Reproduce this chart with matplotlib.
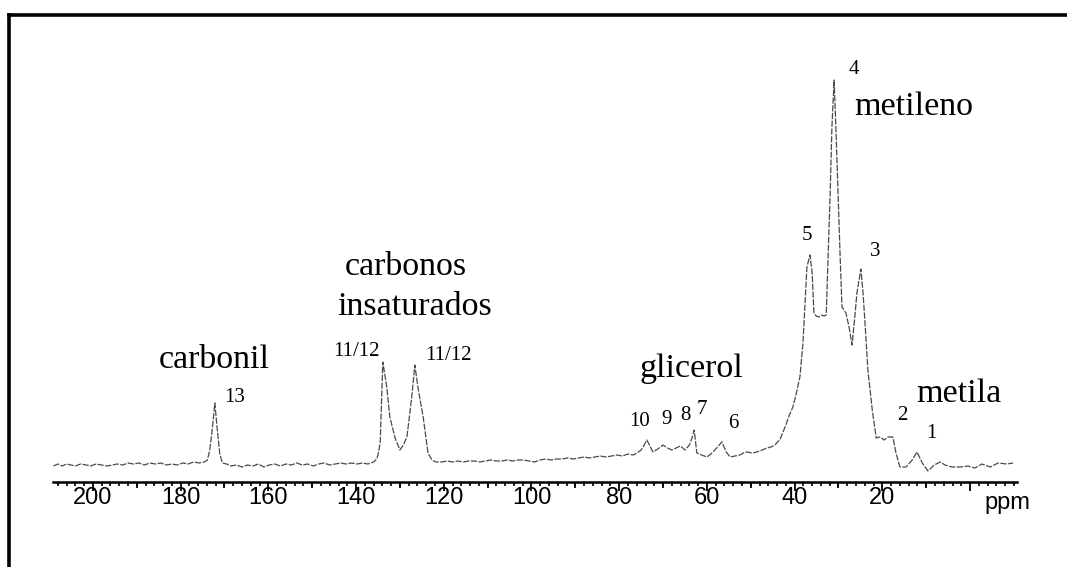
import matplotlib
matplotlib.use("Agg")
import matplotlib.pyplot as plt
from matplotlib.lines import Line2D
from matplotlib.ticker import MultipleLocator, FuncFormatter

# espectro de RMN 13C (deslocamento em ppm, intensidade relativa)
ppm = [209.0, 208.0, 207.0, 206.0, 205.0, 204.0, 202.8, 201.5, 200.5, 199.3,
       198.0, 196.8, 195.5, 194.5, 193.2, 192.0, 190.8, 189.5, 188.3, 187.0,
       185.8, 184.5, 183.3, 182.0, 180.8, 179.5, 178.3, 177.0, 175.8, 174.6,
       173.9, 173.4, 172.8, 172.2, 171.7, 171.1, 170.5,
       169.5, 168.5, 167.3, 166.0, 164.8, 163.5, 162.3, 161.0, 159.8, 158.5,
       157.3, 156.0, 154.8, 153.5, 152.3, 151.0, 149.8, 148.5, 147.3, 146.0,
       144.8, 143.5, 142.3, 141.0, 139.8, 138.5, 137.3, 136.0, 135.3,
       135.0, 134.5, 133.9, 133.0, 132.3, 131.1, 130.0, 129.2, 128.4, 127.3,
       126.6, 125.9, 124.7, 123.6, 122.7,
       121.8, 120.5, 119.2, 118.0, 116.8, 115.5, 114.3, 113.0, 111.8, 110.5,
       109.3, 108.0, 106.8, 105.5, 104.3, 103.0, 101.8, 100.5, 99.3, 98.0,
       96.8, 95.5, 94.3, 93.0, 91.8, 90.5, 89.3, 88.0, 86.8, 85.5,
       84.3, 83.0, 81.8, 80.5, 79.3, 78.0, 76.8, 75.9,
       75.0, 74.3, 73.7, 73.0, 72.3, 71.2, 70.0, 69.0, 68.0, 67.0,
       66.1, 65.5, 65.0, 64.0, 63.4, 62.9, 62.3, 61.2, 60.0, 59.1,
       58.2, 57.4, 56.6, 55.6, 54.7, 53.6, 52.5, 51.7, 50.9, 49.7,
       48.6, 47.4, 46.3, 45.4, 44.5, 43.3, 42.0, 41.2, 40.4, 39.6,
       38.8, 38.1, 37.6, 37.2, 36.5, 36.0, 35.6, 35.1, 34.5, 33.9,
       33.3, 32.8, 32.4, 31.9, 31.5, 31.0, 30.6, 30.1, 29.6, 29.2,
       28.3, 27.6, 26.9, 26.2, 25.8, 24.9, 24.4, 23.9, 23.3, 22.3,
       21.4, 20.5, 19.6, 18.7, 17.6, 16.9, 16.0, 14.6, 13.2, 12.1,
       10.9, 9.6, 8.2, 6.8, 5.7, 4.1, 2.3, 0.5, -1.1, -2.7,
       -4.6, -6.4, -8.4, -9.8]
intensidade = [-1, 1, -1, 1, 0, -1, 1, 0, -1, 1,
               0, -1, 0, 1, 0, 2, 1, 2, 0, 2,
               1, 2, 0, 1, 0, 2, 1, 3, 2, 3,
               5, 14, 35, 62, 38, 12, 2,
               1, -1, 0, -2, 0, -1, 1, -2, 0, 1,
               -1, 1, 0, 2, 0, 1, -1, 1, 2, 0,
               1, 2, 1, 2, 1, 2, 1, 3, 6,
               10, 22, 103, 78, 48, 27, 15, 20, 28, 68,
               100, 78, 48, 12, 5,
               3, 3, 4, 3, 4, 3, 4, 4, 3, 4,
               5, 4, 4, 5, 4, 5, 5, 4, 3, 5,
               6, 5, 6, 6, 7, 6, 7, 8, 7, 8,
               9, 8, 9, 10, 9, 11, 10, 12,
               15, 20, 25, 19, 13, 16, 20, 17, 15, 17,
               19, 17, 15, 20, 27, 35, 12, 10, 8, 11,
               15, 19, 23, 13, 8, 9, 10, 12, 13, 12,
               13, 15, 17, 18, 20, 26, 40, 50, 58, 72,
               88, 122, 165, 198, 210, 192, 152, 149, 148, 150,
               149, 150, 205, 272, 338, 385, 338, 272, 205, 158,
               152, 138, 120, 152, 172, 196, 172, 138, 95, 55,
               27, 28, 25, 28, 28, 12, -2, -2, 5, 13,
               2, -6, 0, 3, 0, -2, -2, -1, -3, 1,
               -2, 2, 1, 2]

# numeração dos sinais: (texto, ppm, intensidade)
sinais = [("13", 167.8, 67), ("11/12", 140.0, 114), ("11/12", 119.0, 110),
          ("10", 75.3, 43), ("9", 69.1, 46), ("8", 65.0, 50), ("7", 61.1, 55),
          ("6", 54.0, 41), ("5", 37.2, 229), ("4", 26.5, 395), ("3", 21.7, 214),
          ("2", 15.5, 49), ("1", 8.9, 31)]

# grupos de carbonos
grupos = [("carbonil", 172.4, 97), ("carbonos", 128.6, 190),
          ("insaturados", 126.6, 150), ("glicerol", 63.6, 88),
          ("metileno", 12.8, 350), ("metila", 2.5, 63)]

fig = plt.figure(figsize=(10.67, 5.67), dpi=100)
ax = fig.add_axes([53 / 1067, 1 - 482 / 567, 964 / 1067, 422 / 567])

ax.plot(ppm, intensidade, color="#4a4a4a", lw=0.9, ls=(0, (5, 1.2)))

ax.set_xlim(209.1, -10.7)
ax.set_ylim(-17, 405)

for s in ["top", "left", "right"]:
    ax.spines[s].set_visible(False)
ax.spines["bottom"].set_linewidth(1.8)
ax.set_yticks([])

ax.xaxis.set_major_locator(MultipleLocator(20))
ax.xaxis.set_minor_locator(MultipleLocator(2))
ax.xaxis.set_major_formatter(FuncFormatter(lambda v, p: "" if abs(v) < 1e-6 else "%d" % v))
ax.tick_params(axis="x", which="major", direction="out", length=6.5, width=1.3,
               pad=-3, labelsize=17)
ax.tick_params(axis="x", which="minor", direction="out", length=2.8, width=1.2)
for lab in ax.get_xticklabels():
    lab.set_fontfamily("Liberation Sans")

# marcas intermediárias a cada 10 ppm
sec = ax.secondary_xaxis("bottom")
sec.set_xticks([190, 170, 150, 130, 110, 90, 70, 50, 30, 10])
sec.set_xticklabels([])
sec.spines["bottom"].set_visible(False)
sec.tick_params(axis="x", which="major", direction="out", length=4, width=1.3)
sec.tick_params(axis="x", which="minor", length=0)

ax.text(-8.4, -27, "ppm", ha="center", va="top", fontsize=17,
        family="Liberation Sans")

for txt, x, y in sinais:
    ax.text(x, y, txt, ha="center", va="center", fontsize=15,
            family="Liberation Serif")

for txt, x, y in grupos:
    ax.text(x, y, txt, ha="center", va="baseline", fontsize=24.5,
            family="Liberation Serif")

# moldura
fig.add_artist(Line2D([9 / 1067, 1.0], [1 - 15 / 567, 1 - 15 / 567],
                      transform=fig.transFigure, color="black", lw=2.6))
fig.add_artist(Line2D([9 / 1067, 9 / 1067], [0, 1 - 15 / 567],
                      transform=fig.transFigure, color="black", lw=2.6))

fig.savefig("out.png", dpi=100, facecolor="white")
